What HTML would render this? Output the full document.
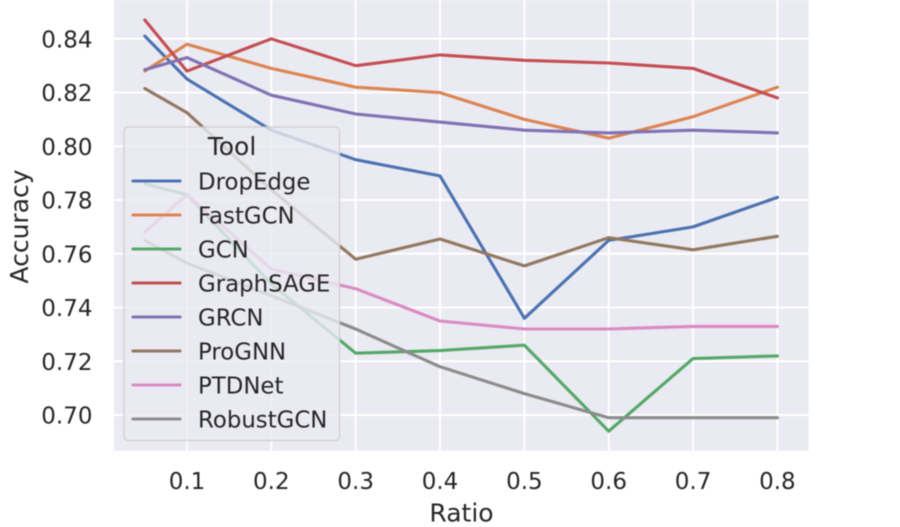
<!DOCTYPE html>
<html>
<head>
<meta charset="utf-8">
<style>
html,body{margin:0;padding:0;background:#fff;}
svg{display:block;}
text{font-family:"DejaVu Sans","Liberation Sans",sans-serif;fill:#262626;}
</style>
</head>
<body>
<svg id="chart" xmlns="http://www.w3.org/2000/svg" width="900" height="527" viewBox="0 0 900 527">
<g id="root" style="filter:blur(0.4px)">
  <rect x="114" y="0" width="694.5" height="450.7" fill="#eaeaf2"/>
  <g id="grid"></g>
  <g id="series"></g>
  <g id="xticks"></g>
  <g id="yticks"></g>
  <text x="461.5" y="521.5" font-size="25" text-anchor="middle">Ratio</text>
  <text transform="translate(28,226.5) rotate(-90)" font-size="25" text-anchor="middle">Accuracy</text>
  <g id="legend">
    <rect x="124" y="127" width="215.5" height="313.5" rx="4" ry="4" fill="#eaeaf2" fill-opacity="0.8" stroke="#cccccc" stroke-opacity="0.8" stroke-width="1.5"/>
    <text x="232" y="155" font-size="25" text-anchor="middle">Tool</text>
  </g>
</g>
</svg>
<script>
const ratios = [0.05, 0.1, 0.2, 0.3, 0.4, 0.5, 0.6, 0.7, 0.8];
const xTickValues = [0.1, 0.2, 0.3, 0.4, 0.5, 0.6, 0.7, 0.8];
const yTickValues = [0.70, 0.72, 0.74, 0.76, 0.78, 0.80, 0.82, 0.84];
const toolNames = ["DropEdge", "FastGCN", "GCN", "GraphSAGE", "GRCN", "ProGNN", "PTDNet", "RobustGCN"];
const toolColors = ["#4c72b0", "#dd8452", "#55a868", "#c44e52", "#8172b3", "#937860", "#da8bc3", "#8c8c8c"];
const dropEdge = [0.841, 0.825, 0.806, 0.795, 0.789, 0.736, 0.765, 0.770, 0.781];
const fastGCN = [0.828, 0.838, 0.829, 0.822, 0.820, 0.810, 0.803, 0.811, 0.822];
const gcn = [0.786, 0.782, 0.7488, 0.723, 0.724, 0.726, 0.694, 0.721, 0.722];
const graphSAGE = [0.847, 0.828, 0.840, 0.830, 0.834, 0.832, 0.831, 0.829, 0.818];
const grcn = [0.8285, 0.833, 0.819, 0.812, 0.809, 0.806, 0.805, 0.806, 0.805];
const proGNN = [0.8215, 0.8125, 0.7838, 0.758, 0.7655, 0.7555, 0.766, 0.7615, 0.7665];
const ptdNet = [0.768, 0.782, 0.7544, 0.747, 0.735, 0.732, 0.732, 0.733, 0.733];
const robustGCN = [0.765, 0.7565, 0.7444, 0.732, 0.718, 0.708, 0.699, 0.699, 0.699];
const seriesValues = [dropEdge, fastGCN, gcn, graphSAGE, grcn, proGNN, ptdNet, robustGCN];

const NS = "http://www.w3.org/2000/svg";
function xScale(v) { return 187 + (v - 0.1) * 843.4; }
function yScale(v) { return 38.8 + (0.84 - v) * 2687.5; }
function make(tag, attrs, parent) {
  const el = document.createElementNS(NS, tag);
  for (const k in attrs) el.setAttribute(k, attrs[k]);
  parent.appendChild(el);
  return el;
}
const gridG = document.getElementById("grid");
const xG = document.getElementById("xticks");
const yG = document.getElementById("yticks");
const seriesG = document.getElementById("series");
const legendG = document.getElementById("legend");

xTickValues.forEach(function (v) {
  const line = make("line", { x1: xScale(v), x2: xScale(v), y1: 0, y2: 450.7, stroke: "#ffffff", "stroke-width": 2 }, gridG);
  
  
  const label = make("text", { x: xScale(v), y: 489, "font-size": 23, "text-anchor": "middle" }, xG);
  label.textContent = v.toFixed(1);
  
  
});
yTickValues.forEach(function (v) {
  const line = make("line", { x1: 114, x2: 808.5, y1: yScale(v), y2: yScale(v), stroke: "#ffffff", "stroke-width": 2 }, gridG);
  
  
  const label = make("text", { x: 92.5, y: yScale(v) + 8.5, "font-size": 23, "text-anchor": "end" }, yG);
  label.textContent = v.toFixed(2);
  
  
});
seriesValues.forEach(function (vals, i) {
  const pts = vals.map(function (v, j) { return xScale(ratios[j]).toFixed(1) + "," + yScale(v).toFixed(1); }).join(" ");
  const line = make("polyline", { points: pts, fill: "none", stroke: toolColors[i], "stroke-width": 3.1, "stroke-linecap": "round", "stroke-linejoin": "round" }, seriesG);
  
  
  const rowY = 181 + i * 34;
  const key = make("line", { x1: 133, x2: 180, y1: rowY, y2: rowY, stroke: toolColors[i], "stroke-width": 3.1, "stroke-linecap": "round" }, legendG);
  
  
  const label = make("text", { x: 198, y: rowY + 8.5, "font-size": 22.85 }, legendG);
  label.textContent = toolNames[i];
  
  
});
</script>
</body>
</html>
